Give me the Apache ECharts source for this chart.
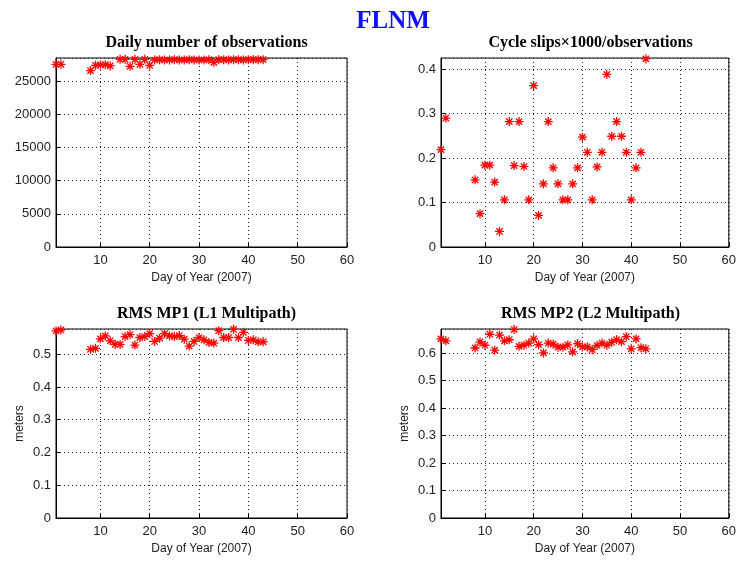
<!DOCTYPE html>
<html>
<head>
<meta charset="utf-8">
<script src="https://cdn.jsdelivr.net/npm/echarts@6/dist/echarts.min.js"></script>
<style>html,body{margin:0;padding:0;background:#fff}#c{width:739px;height:561px}</style>
</head>
<body>
<div id="c"></div>
<script>
// ---- data ----
const mainTitle = 'FLNM';
const panelTitles = ['Daily number of observations', 'Cycle slips\u00d71000/observations', 'RMS MP1 (L1 Multipath)', 'RMS MP2 (L2 Multipath)'];
const xAxisName = 'Day of Year (2007)';
const yAxisNameMeters = 'meters';
const xTickValues = [10, 20, 30, 40, 50, 60];

const obsDays = [1, 2, 8, 9, 10, 11, 12, 14, 15, 16, 17, 18, 19, 20, 21, 22, 23, 24, 25, 26, 27, 28, 29, 30, 31, 32, 33, 34, 35, 36, 37, 38, 39, 40, 41, 42, 43];
const obsValues = [27550, 27550, 26600, 27400, 27450, 27500, 27300, 28300, 28300, 27250, 28300, 27550, 28300, 27400,
  28200, 28250, 28200, 28200, 28250, 28200, 28200, 28250, 28200, 28200, 28200, 28250, 27850,
  28250, 28250, 28200, 28250, 28250, 28200, 28250, 28250, 28250, 28250];

const days = [1, 2, 8, 9, 10, 11, 12, 13, 14, 15, 16, 17, 18, 19, 20, 21, 22, 23, 24, 25, 26, 27, 28, 29, 30, 31, 32, 33, 34, 35, 36, 37, 38, 39, 40, 41, 42, 43];
const slipValues = [0.219, 0.290, 0.151, 0.075, 0.184, 0.184, 0.146, 0.035, 0.106, 0.282, 0.183, 0.282, 0.181, 0.106, 0.363,
  0.071, 0.142, 0.282, 0.178, 0.142, 0.106, 0.106, 0.142, 0.178, 0.247, 0.213, 0.106, 0.180, 0.213, 0.388,
  0.249, 0.282, 0.249, 0.213, 0.106, 0.178, 0.213, 0.423];
const mp1Values = [0.571, 0.574, 0.515, 0.518, 0.547, 0.556, 0.541, 0.530, 0.530, 0.554, 0.560, 0.528, 0.551, 0.554, 0.563,
  0.539, 0.549, 0.563, 0.556, 0.554, 0.557, 0.546, 0.525, 0.539, 0.551, 0.544, 0.536, 0.534, 0.572, 0.551,
  0.551, 0.576, 0.551, 0.567, 0.542, 0.544, 0.538, 0.538];
const mp2Values = [0.651, 0.644, 0.618, 0.640, 0.628, 0.668, 0.610, 0.665, 0.644, 0.648, 0.685, 0.624, 0.628, 0.636, 0.651,
  0.630, 0.600, 0.636, 0.632, 0.621, 0.621, 0.629, 0.604, 0.634, 0.622, 0.622, 0.612, 0.627, 0.636, 0.628,
  0.639, 0.648, 0.641, 0.659, 0.615, 0.651, 0.619, 0.615];

const yRanges = [[0, 28500, 5000], [0, 0.425, 0.1], [0, 0.577, 0.1], [0, 0.687, 0.1]];

// ---- chart ----
const grids = [
  {left: 56, top: 58, width: 291, height: 189},
  {left: 441, top: 58, width: 289, height: 189},
  {left: 56, top: 329, width: 291, height: 189},
  {left: 441, top: 329, width: 289, height: 189}
];
const sans = 'Liberation Sans';
const serif = 'Liberation Serif';
const star = 'path://M0,5L10,5M5,0L5,10M1.5,1.5L8.5,8.5M8.5,1.5L1.5,8.5';
const gridLine = {show: true, lineStyle: {color: '#222', type: [1, 3], width: 1}};

const xAxes = grids.map((g, i) => ({
  type: 'value', gridIndex: i, min: 1, max: 60,
  name: xAxisName, nameLocation: 'middle', nameGap: 25,
  nameTextStyle: {fontFamily: sans, fontSize: 12, color: '#222'},
  axisLine: {show: true, lineStyle: {color: '#000'}},
  axisTick: {show: true, inside: true, length: 4, customValues: xTickValues, lineStyle: {color: '#000'}},
  axisLabel: {customValues: xTickValues, fontFamily: sans, fontSize: 13, color: '#222', margin: 7},
  splitLine: gridLine
}));
const yAxes = grids.map((g, i) => ({
  type: 'value', gridIndex: i, min: yRanges[i][0], max: yRanges[i][1], interval: yRanges[i][2],
  name: i >= 2 ? yAxisNameMeters : '', nameLocation: 'middle', nameGap: 30,
  nameTextStyle: {fontFamily: sans, fontSize: 12, color: '#222'},
  axisLine: {show: true, lineStyle: {color: '#000'}},
  axisTick: {show: true, inside: true, length: 4, lineStyle: {color: '#000'}},
  axisLabel: {fontFamily: sans, fontSize: 13, color: '#222', margin: 5, showMaxLabel: false,
    formatter: v => String(v)},
  splitLine: gridLine
}));

const panelData = [
  [obsDays, obsValues], [days, slipValues], [days, mp1Values], [days, mp2Values]
];
const series = panelData.map((p, i) => ({
  type: 'scatter', xAxisIndex: i, yAxisIndex: i,
  data: p[0].map((d, k) => [d, p[1][k]]),
  symbol: star, symbolSize: 9,
  itemStyle: {color: 'transparent', borderColor: '#ff0000', borderWidth: 1.3, opacity: 1},
  emphasis: {disabled: true}, silent: true, animation: false
}));

const titles = [
  {text: mainTitle, left: 388, top: 4, textAlign: 'center', textStyle: {fontFamily: serif, fontSize: 25, fontWeight: 'bold', color: '#1010ff'}}
].concat(grids.map((g, i) => ({
  text: panelTitles[i], left: g.left + g.width / 2, top: g.top - 28, textAlign: 'center',
  textStyle: {fontFamily: serif, fontSize: 16, fontWeight: 'bold', color: '#000'}
})));

const chart = echarts.init(document.getElementById('c'), null, {renderer: 'canvas'});
chart.setOption({
  backgroundColor: '#fff',
  animation: false,
  title: titles,
  grid: grids.map(g => Object.assign({show: true, borderColor: '#000', borderWidth: 1, backgroundColor: '#fff'}, g)),
  xAxis: xAxes,
  yAxis: yAxes,
  series: series
});
</script>
</body>
</html>
